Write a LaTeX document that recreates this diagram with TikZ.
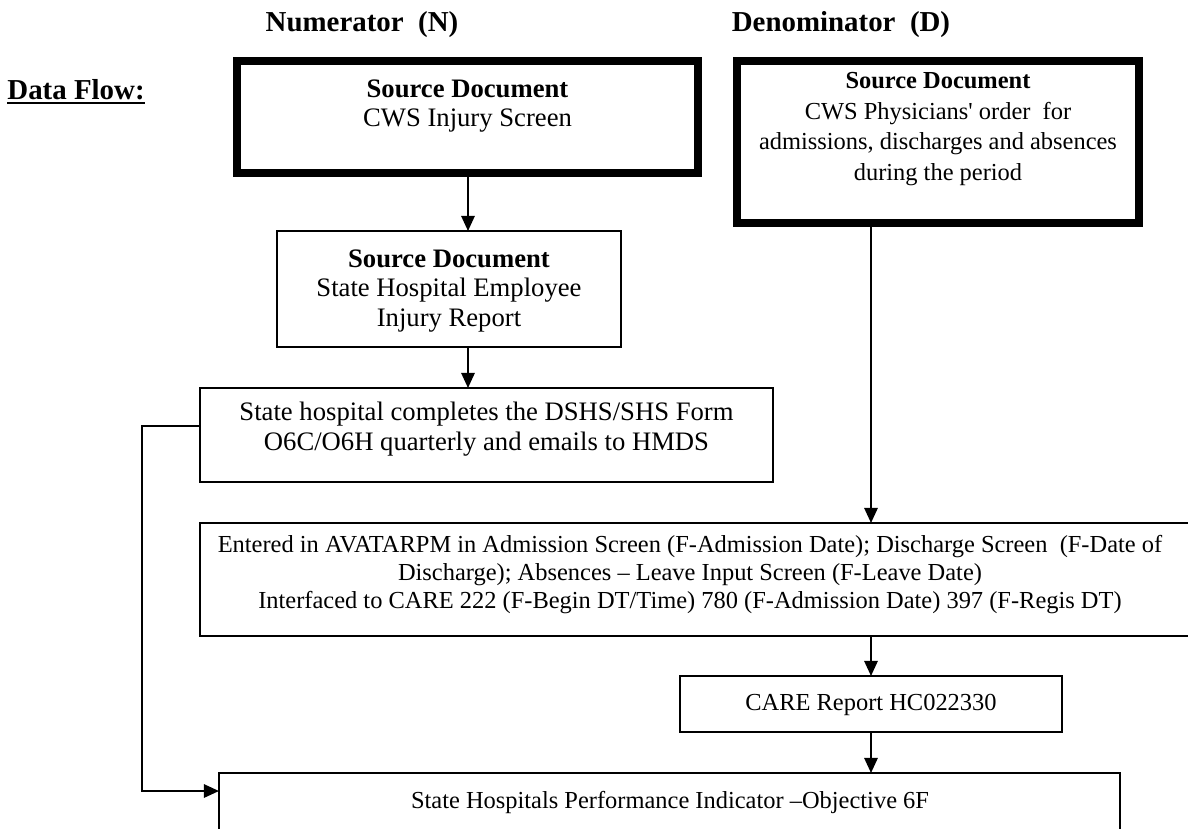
\documentclass[tikz,border=0pt]{standalone}
\usepackage{fontspec}
\setmainfont{Liberation Serif}
\usetikzlibrary{arrows.meta,fit}
\begin{document}
\begin{tikzpicture}[x=0.45pt,y=-0.45pt,
  thickbox/.style={draw, line width=3.6pt, inner sep=0pt, outer sep=0pt},
  thinbox/.style={draw, line width=0.9pt, inner sep=0pt, outer sep=0pt},
  arr/.style={line width=0.9pt, -{Triangle[width=6pt,length=6.8pt]}},
  txt/.style={align=center, inner sep=0pt},
  fa/.style={font=\fontsize{12}{13.2}\selectfont},
  fb/.style={font=\fontsize{11}{12.6}\selectfont},
  head/.style={font=\fontsize{13}{15}\selectfont\bfseries, inner sep=0pt, anchor=base}]
\clip (0,0) rectangle (1188,828);
\fill[white] (0,0) rectangle (1188,828);

% headers
\node[head] (hn) at (362,31) {Numerator\ \ (N)};
\node[head] (hd) at (841,31) {Denominator\ \ (D)};
\node[head, anchor=base west] (df) at (7,99) {Data Flow:};
\draw[line width=1.1pt] ([yshift=-1.9pt]df.base west) -- ([yshift=-1.9pt]df.base east);

% boxes
\node[thickbox, fit={(237,61) (698,173)}] (b1) {};
\node[txt, fa] (t1) at (467.5,106) {\textbf{Source Document}\\CWS Injury Screen};

\node[thickbox, fit={(737,61) (1139,223)}] (b2) {};
\node[txt, font=\fontsize{11}{13.8}\selectfont] (t2) at (938,129) {\textbf{Source Document}\\CWS Physicians\textquotesingle{} order\ \ for\\admissions, discharges and absences\\during the period};

\node[thinbox, fit={(277,231) (621,347)}] (she) {};
\node[txt, font=\fontsize{12}{13.4}\selectfont] (t3) at (449,291) {\textbf{Source Document}\\State Hospital Employee\\Injury Report};

\node[thinbox, fit={(200,388) (773,482)}] (b3) {};
\node[txt, fa] (t4) at (486.5,429) {State hospital completes the DSHS/SHS Form\\O6C/O6H quarterly and emails to HMDS};

\node[thinbox, fit={(200,523) (1195,636)}] (b4) {};
\node[txt, fb] (t5) at (690,575) {Entered in AVATARPM in Admission Screen (F-Admission Date); Discharge Screen\ \ (F-Date of\\Discharge); Absences – Leave Input Screen (F-Leave Date)\\Interfaced to CARE 222 (F-Begin DT/Time) 780 (F-Admission Date) 397 (F-Regis DT)};

\node[thinbox, fit={(680,676) (1062,732)}] (b5) {};
\node[txt, fb] (t6) at (871,705) {CARE Report HC022330};

\node[thinbox, fit={(219,773) (1120,860)}] (b6) {};
\node[txt, fb] (t7) at (670,802) {State Hospitals Performance Indicator –Objective 6F};

% connectors
\coordinate (cN) at (468,0);
\coordinate (cD) at (871,0);
\coordinate (L1) at (142,426);
\coordinate (L2) at (142,791);
\draw[arr] (b1.south -| cN) -- (she.north -| cN);
\draw[arr] (she.south -| cN) -- (b3.north -| cN);
\draw[arr] (b2.south -| cD) -- (b4.north -| cD);
\draw[arr] (b4.south -| b5.north) -- (b5.north);
\draw[arr] (b5.south) -- (b6.north -| b5.south);
\draw[arr] (b3.west |- L1) -- (L1) -- (L2) -- (b6.west |- L2);
\end{tikzpicture}
\end{document}
